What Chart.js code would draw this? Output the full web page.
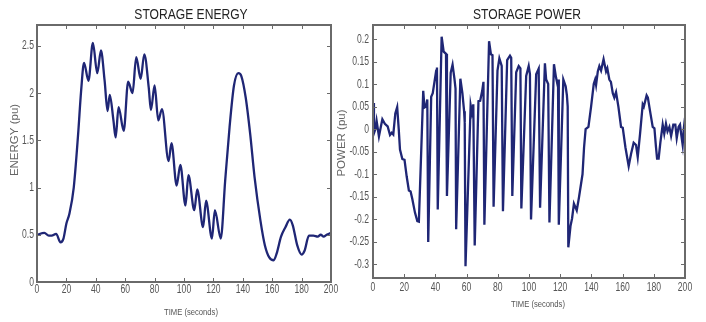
<!DOCTYPE html>
<html>
<head>
<meta charset="utf-8">
<script src="https://cdn.jsdelivr.net/npm/chart.js@4/dist/chart.umd.min.js"></script>
<style>
  body { margin: 0; background: #fff; }
  canvas { position: absolute; top: 0; }
  #energy-chart { left: 0; }
  #power-chart { left: 336px; }
</style>
</head>
<body>
<canvas id="energy-chart" width="353" height="322"></canvas>
<canvas id="power-chart" width="370" height="322"></canvas>
<script>
// storage energy (pu) vs time (s)
const energyTime = [0, 5, 8, 10, 13, 16, 18, 20, 22, 25, 28, 30, 32, 35, 38, 41, 43.5, 46, 48, 49.5,
  52, 53.5, 55.5, 59, 62, 65, 67.5, 70.5, 73, 76, 77.5, 80, 82.5, 85, 89.5, 91.5, 95, 97.5, 101, 103,
  107, 109, 113, 115, 119, 121, 125, 128, 131, 134, 137, 139, 142, 145, 148, 152, 155, 158, 161, 163,
  166, 169, 172, 174, 177, 180, 182, 185, 188, 191, 193, 195, 197, 200];
const energyValues = [0.5, 0.52, 0.49, 0.49, 0.51, 0.42, 0.46, 0.62, 0.72, 1.0, 1.57, 2.02, 2.32, 2.13, 2.53, 2.21, 2.45, 2.13, 1.81, 1.98,
  1.71, 1.53, 1.85, 1.6, 2.12, 2.0, 2.38, 2.15, 2.41, 2.06, 1.82, 2.08, 1.71, 1.83, 1.28, 1.47, 1.02, 1.24, 0.81, 1.13,
  0.76, 0.98, 0.58, 0.86, 0.46, 0.76, 0.46, 1.07, 1.64, 2.08, 2.21, 2.18, 1.95, 1.57, 1.11, 0.65, 0.39, 0.26, 0.23, 0.3,
  0.48, 0.58, 0.66, 0.6, 0.39, 0.29, 0.33, 0.49, 0.49, 0.48, 0.5, 0.48, 0.5, 0.52];

// storage power (pu) vs time (s)
const powerTime = [0, 0.6, 1.5, 2.3, 3.8, 5, 6, 7.6, 9.4, 10.9, 12, 13, 14.3, 15.5, 16.5, 17.3, 18.8, 20.2, 21.6, 23,
  24.1, 25.2, 26.9, 28.4, 29.4, 32.2, 33, 34, 34.8, 35.4, 37.3, 38.3, 39.4, 40.5, 41, 41.5, 44, 45.3, 46.8, 47.4,
  49.8, 51, 52.2, 52.9, 53.3, 56, 57.3, 58.4, 58.8, 59.3, 62.6, 63.4, 64.3, 65.2, 67.6, 68.7, 70, 70.8, 71.4, 74.4,
  75.6, 76.6, 77.3, 79.8, 81, 82.5, 83.3, 86, 87.8, 88.6, 89.3, 91.8, 93.4, 94.5, 95.1, 98.2, 99.8, 100.6, 101.3, 104.6,
  106.2, 107.1, 110.2, 111, 112.3, 113.1, 116, 117.3, 118.2, 118.6, 119.1, 122, 123.5, 124.3, 124.8, 125.2, 126.6, 127.6, 128.8, 130.6,
  132, 134.3, 135.3, 136.3, 138.1, 139.8, 141.5, 142.4, 143, 144.1, 145.1, 146.2, 147.8, 149.4, 150.2, 151.5, 152.5, 153.7, 154.7, 155.8,
  157.3, 159, 160.1, 161.8, 163.9, 165.4, 167.1, 168.6, 169.7, 171.2, 172.9, 173.6, 175.4, 176.2, 177.6, 179.3, 180.4, 181.4, 182.1, 183.1,
  184.2, 185.7, 186.7, 187.8, 188.8, 190, 191.1, 192.5, 193.8, 194.7, 195.9, 196.8, 197.5, 198.5, 199.2, 200];
const powerValues = [0.058, -0.009, 0.0, 0.019, -0.016, 0.005, 0.022, 0.012, 0.006, -0.013, -0.008, -0.012, 0.035, 0.049, 0.0, -0.045, -0.066, -0.068, -0.105, -0.136,
  -0.138, -0.155, -0.185, -0.204, -0.205, 0.085, 0.048, 0.05, 0.066, -0.25, 0.072, 0.08, 0.105, 0.13, 0.137, -0.178, 0.205, 0.172, 0.167, -0.148,
  0.125, 0.143, 0.112, 0.09, -0.222, 0.112, 0.08, 0.04, 0.015, -0.304, 0.053, 0.037, 0.055, -0.258, 0.062, 0.063, 0.085, 0.105, -0.212, 0.195,
  0.166, 0.164, -0.172, 0.13, 0.157, 0.14, -0.182, 0.153, 0.163, 0.158, -0.148, 0.126, 0.14, 0.135, -0.176, 0.118, 0.14, 0.122, -0.2, 0.122,
  0.134, -0.174, 0.146, 0.11, 0.1, -0.207, 0.144, 0.115, 0.1, 0.11, -0.212, 0.11, 0.095, 0.075, 0.05, -0.262, -0.215, -0.198, -0.165, -0.18,
  -0.152, -0.1, -0.04, 0.0, 0.005, 0.05, 0.1, 0.11, 0.098, 0.128, 0.14, 0.13, 0.155, 0.128, 0.135, 0.11, 0.105, 0.08, 0.07, 0.082,
  0.05, 0.005, 0.003, -0.04, -0.082, -0.055, -0.03, -0.035, -0.062, -0.01, 0.055, 0.05, 0.075, 0.07, 0.04, 0.005, 0.002, -0.04, -0.065, -0.065,
  -0.03, 0.01, -0.01, 0.012, -0.005, 0.005, -0.015, 0.01, 0.01, -0.02, 0.005, 0.01, -0.01, -0.035, 0.0, 0.025];

const LINE = "#1f2675";
const FRAME = "#6a6a6a";
const SANS = "'Liberation Sans', Arial, sans-serif";

// text squeezed sideways, the source uses a narrow face
function narrowText(ctx, text, x, y, font, squeeze, align) {
  ctx.save();
  ctx.translate(x, y);
  ctx.scale(squeeze, 1);
  ctx.font = font;
  ctx.textAlign = align;
  ctx.fillText(text, 0, 0);
  ctx.restore();
}

// MATLAB style box with inward ticks on all four sides, plus the texts
const framePlugin = {
  id: "frame",
  afterDraw(chart, args, opts) {
    const { ctx, chartArea: a, scales } = chart;
    ctx.save();
    ctx.strokeStyle = FRAME;
    ctx.lineWidth = 2;
    ctx.strokeRect(a.left, a.top, a.right - a.left, a.bottom - a.top);
    ctx.lineWidth = 1;
    ctx.beginPath();
    scales.x.ticks.forEach((t) => {
      const px = Math.round(scales.x.getPixelForValue(t.value)) + 0.5;
      ctx.moveTo(px, a.bottom); ctx.lineTo(px, a.bottom - 4);
      ctx.moveTo(px, a.top); ctx.lineTo(px, a.top + 4);
    });
    scales.y.ticks.forEach((t) => {
      const py = Math.round(scales.y.getPixelForValue(t.value)) + 0.5;
      ctx.moveTo(a.left, py); ctx.lineTo(a.left + 4, py);
      ctx.moveTo(a.right, py); ctx.lineTo(a.right - 4, py);
    });
    ctx.stroke();

    // tick labels
    ctx.textBaseline = "middle";
    ctx.fillStyle = "#555";
    const tickFont = "13px " + SANS;
    scales.x.ticks.forEach((t) => {
      narrowText(ctx, t.label, scales.x.getPixelForValue(t.value), opts.xLabelY, tickFont, 0.66, "center");
    });
    scales.y.ticks.forEach((t) => {
      narrowText(ctx, t.label, a.left - opts.yLabelPad, scales.y.getPixelForValue(t.value), tickFont, 0.66, "right");
    });

    ctx.fillStyle = "#222";
    narrowText(ctx, opts.title, opts.titleX, 15, "15.5px " + SANS, 0.78, "center");

    ctx.fillStyle = "#555";
    narrowText(ctx, opts.xTitle, opts.xTitleX, opts.xTitleY, "9px " + SANS, 0.85, "center");

    ctx.save();
    ctx.translate(opts.yTitleX, opts.yTitleY);
    ctx.rotate(-Math.PI / 2);
    ctx.font = "11.5px " + SANS;
    ctx.textAlign = "center";
    ctx.fillStyle = "#666";
    ctx.fillText(opts.yTitle, 0, 0);
    ctx.restore();
    ctx.restore();
  },
};

function makeChart(id, xs, ys, cfg) {
  const points = xs.map((x, i) => ({ x, y: ys[i] }));
  return new Chart(document.getElementById(id), {
    type: "line",
    data: {
      datasets: [
        {
          data: points,
          borderColor: LINE,
          borderWidth: 2.3,
          pointRadius: 0,
          fill: false,
          tension: cfg.smooth ? 0.4 : 0,
          cubicInterpolationMode: cfg.smooth ? "monotone" : "default",
        },
      ],
    },
    options: {
      responsive: false,
      animation: false,
      events: [],
      layout: { padding: { left: 0, right: cfg.padRight, top: 25, bottom: 0 } },
      plugins: {
        legend: { display: false },
        tooltip: { enabled: false },
        frame: cfg.frame,
      },
      scales: {
        x: {
          type: "linear",
          min: 0,
          max: 200,
          grid: { display: false, drawTicks: false },
          border: { display: false },
          ticks: { stepSize: 20, display: false },
          afterFit: (s) => { s.height = cfg.xHeight; },
        },
        y: {
          min: cfg.yMin,
          max: cfg.yMax,
          grid: { display: false, drawTicks: false },
          border: { display: false },
          ticks: {
            stepSize: cfg.yStep,
            includeBounds: false,
            display: false,
            callback: (v) => String(Math.round(v * 100) / 100),
          },
          afterFit: (s) => { s.width = 37; },
        },
      },
    },
    plugins: [framePlugin],
  });
}

makeChart("energy-chart", energyTime, energyValues, {
  smooth: true,
  padRight: 22,
  xHeight: 40,
  yMin: 0,
  yMax: 2.72,
  yStep: 0.5,
  frame: {
    title: "STORAGE ENERGY", titleX: 191,
    xTitle: "TIME (seconds)", xTitleX: 191, xTitleY: 313,
    yTitle: "ENERGY (pu)", yTitleX: 15, yTitleY: 140,
    xLabelY: 289, yLabelPad: 3,
  },
});

makeChart("power-chart", powerTime, powerValues, {
  smooth: false,
  padRight: 21,
  xHeight: 44,
  yMin: -0.33,
  yMax: 0.231,
  yStep: 0.05,
  frame: {
    title: "STORAGE POWER", titleX: 191,
    xTitle: "TIME (seconds)", xTitleX: 202, xTitleY: 305,
    yTitle: "POWER (pu)", yTitleX: 6, yTitleY: 143,
    xLabelY: 287, yLabelPad: 4,
  },
});
</script>
</body>
</html>
